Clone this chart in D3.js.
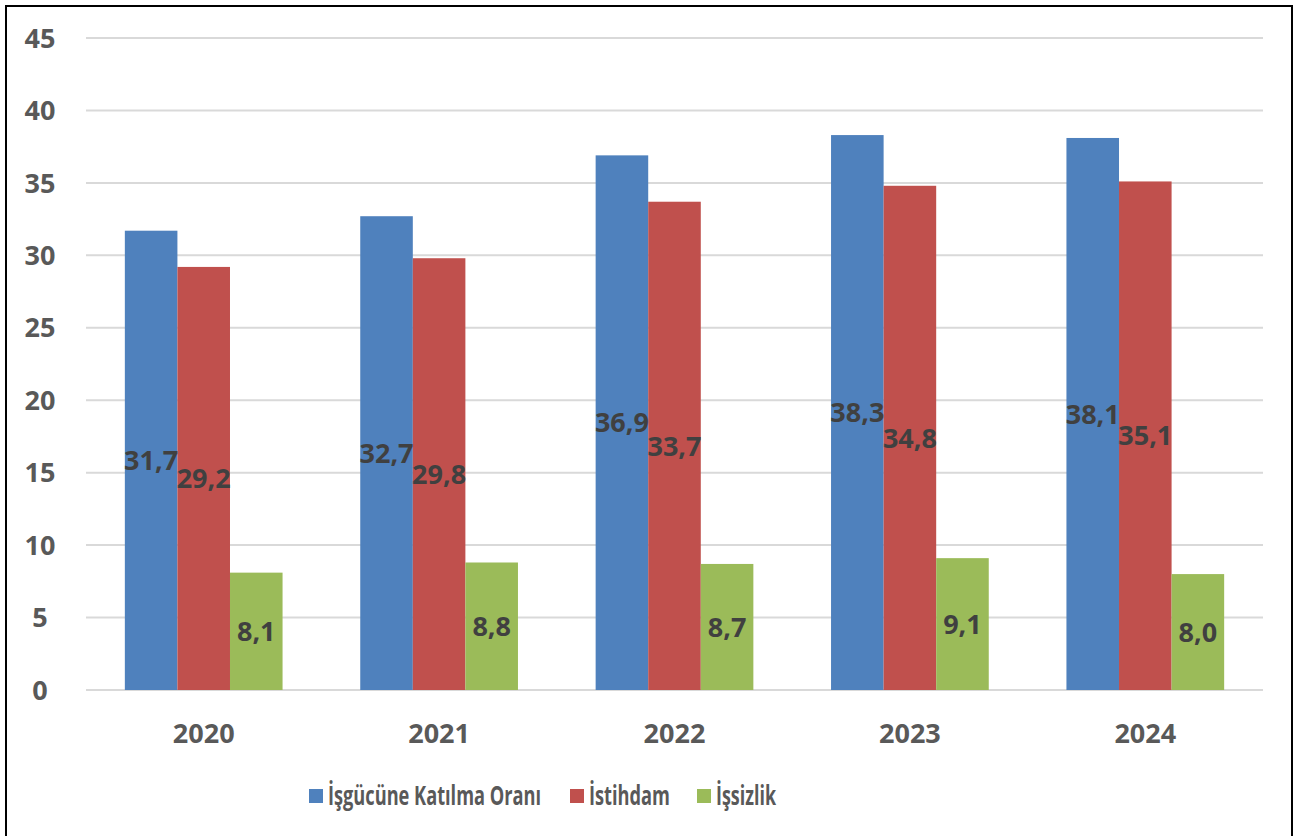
<!DOCTYPE html>
<html>
<head>
<meta charset="utf-8">
<script src="https://cdn.jsdelivr.net/npm/d3@7"></script>
<style>
  body { margin: 0; background: #fff; }
  svg text { font-family: "Open Sans", "Noto Sans", sans-serif; font-weight: bold; }
</style>
</head>
<body>
<div id="chart"></div>
<script>
const years = ["2020", "2021", "2022", "2023", "2024"];
const seriesNames = ["İşgücüne Katılma Oranı", "İstihdam", "İşsizlik"];
const katilma = [31.7, 32.7, 36.9, 38.3, 38.1];
const istihdam = [29.2, 29.8, 33.7, 34.8, 35.1];
const issizlik = [8.1, 8.8, 8.7, 9.1, 8.0];
const yTicks = [0, 5, 10, 15, 20, 25, 30, 35, 40, 45];
const colors = ["#4F81BD", "#C0504D", "#9BBB59"];

const width = 1298, height = 836;
const margin = { top: 38, right: 35, bottom: 146, left: 86 };

const svg = d3.select("#chart").append("svg")
    .attr("width", width)
    .attr("height", height);

// outer frame
svg.append("rect")
    .attr("x", 6).attr("y", 6)
    .attr("width", 1286).attr("height", 850)
    .attr("fill", "none")
    .attr("stroke", "#000")
    .attr("stroke-width", 2);

const x0 = d3.scaleBand()
    .domain(years)
    .range([margin.left, width - margin.right])
    .paddingInner(0.33)
    .paddingOuter(0.165);

const x1 = d3.scaleBand()
    .domain(d3.range(3))
    .range([0, x0.bandwidth()]);

const y = d3.scaleLinear()
    .domain([0, 45])
    .range([height - margin.bottom, margin.top]);

// gridlines
svg.append("g")
    .selectAll("line")
    .data(yTicks)
    .enter().append("line")
    .attr("x1", margin.left)
    .attr("x2", width - margin.right)
    .attr("y1", d => y(d))
    .attr("y2", d => y(d))
    .attr("stroke", "#d9d9d9")
    .attr("stroke-width", 2);

// y labels
svg.append("g")
    .selectAll("text")
    .data(yTicks)
    .enter().append("text")
    .attr("x", 40)
    .attr("y", d => y(d))
    .attr("dy", "0.36em")
    .attr("text-anchor", "middle")
    .attr("font-size", 27)
    .attr("fill", "#595959")
    .text(d => d);

const table = years.map((yr, i) => ({
    year: yr,
    values: [katilma[i], istihdam[i], issizlik[i]]
}));

const groups = svg.append("g")
    .selectAll("g")
    .data(table)
    .enter().append("g")
    .attr("transform", d => `translate(${x0(d.year)},0)`);

groups.selectAll("rect")
    .data(d => d.values.map((v, k) => ({ k, v })))
    .enter().append("rect")
    .attr("x", d => x1(d.k))
    .attr("y", d => y(d.v))
    .attr("width", x1.bandwidth())
    .attr("height", d => y(0) - y(d.v))
    .attr("fill", d => colors[d.k]);

groups.selectAll("text")
    .data(d => d.values.map((v, k) => ({ k, v })))
    .enter().append("text")
    .attr("x", d => x1(d.k) + x1.bandwidth() / 2)
    .attr("y", d => y(d.v / 2))
    .attr("dy", "0.36em")
    .attr("text-anchor", "middle")
    .attr("font-size", 27)
    .attr("fill", "#404040")
    .text(d => d.v.toFixed(1).replace(".", ","));

// x labels
svg.append("g")
    .selectAll("text")
    .data(years)
    .enter().append("text")
    .attr("x", d => x0(d) + x0.bandwidth() / 2)
    .attr("y", 733)
    .attr("dy", "0.36em")
    .attr("text-anchor", "middle")
    .attr("font-size", 27)
    .attr("fill", "#595959")
    .text(d => d);

// legend
const legendX = [309, 570, 697];
const legendW = [213, 81, 60];
const legend = svg.append("g")
    .selectAll("g")
    .data(seriesNames)
    .enter().append("g")
    .attr("transform", (d, i) => `translate(${legendX[i]},796)`);

legend.append("rect")
    .attr("x", 0).attr("y", -7)
    .attr("width", 14).attr("height", 14)
    .attr("fill", (d, i) => colors[i]);

legend.append("text")
    .attr("x", 19)
    .attr("dy", "0.36em")
    .attr("font-size", 26)
    .attr("fill", "#595959")
    .attr("textLength", (d, i) => legendW[i])
    .attr("lengthAdjust", "spacingAndGlyphs")
    .text(d => d);
</script>
</body>
</html>
